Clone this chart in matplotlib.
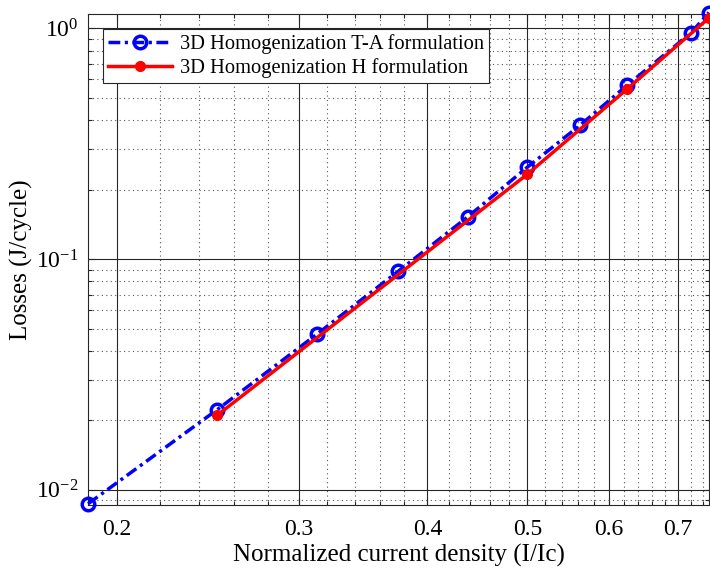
import matplotlib
matplotlib.use('Agg')
import numpy as np
from matplotlib import pyplot as plt
from matplotlib.ticker import FixedLocator, NullFormatter

plt.rcParams['font.family'] = ['Liberation Serif', 'DejaVu Serif']
plt.rcParams['mathtext.fontset'] = 'custom'
plt.rcParams['mathtext.rm'] = 'Liberation Serif'

# T-A formulation (blue)
ta_x = [0.1875, 0.25, 0.3125, 0.375, 0.4375, 0.5, 0.5625, 0.625, 0.72, 0.75]
ta_y = [0.0087, 0.0222, 0.0472, 0.0887, 0.152, 0.250, 0.380, 0.567, 0.951, 1.17]

# H formulation (red)
h_x = [0.25, 0.5, 0.625, 0.75]
h_y = [0.0210, 0.233, 0.546, 1.108]

x_major = [0.2, 0.3, 0.4, 0.5, 0.6, 0.7]
x_major_labels = ['0.2', '0.3', '0.4', '0.5', '0.6', '0.7']
x_minor = [0.22, 0.24, 0.26, 0.28, 0.32, 0.34, 0.36, 0.38, 0.42, 0.44, 0.46, 0.48,
           0.52, 0.54, 0.56, 0.58, 0.62, 0.64, 0.66, 0.68, 0.72, 0.74]
y_major = [1e-2, 1e-1, 1e0]
y_major_labels = [r'$\mathregular{10^{-2}}$', r'$\mathregular{10^{-1}}$', r'$\mathregular{10^{0}}$']

fig = plt.figure(figsize=(7.1, 5.68), dpi=100)
ax = fig.add_axes([0.124, 0.111, 0.8745, 0.8644])

ax.plot(ta_x, ta_y, color='blue', linewidth=2.5, linestyle=(0, (3.4, 1.3, 0.9, 1.3)),
        marker='o', markersize=9, markerfacecolor='none', markeredgewidth=2.5,
        label='3D Homogenization T-A formulation', clip_on=False, zorder=3)
ax.plot(h_x, h_y, color='red', linewidth=2.5, linestyle='-',
        marker='o', markersize=7, markerfacecolor='red',
        label='3D Homogenization H formulation', clip_on=False, zorder=4)

ax.set_xscale('log')
ax.set_yscale('log')
ax.set_xlim(0.1875, 0.75)
ax.set_ylim(0.0086, 1.153)

ax.xaxis.set_major_locator(FixedLocator(x_major))
ax.set_xticklabels(x_major_labels)
ax.xaxis.set_minor_locator(FixedLocator(x_minor))
ax.xaxis.set_minor_formatter(NullFormatter())
ax.yaxis.set_major_locator(FixedLocator(y_major))
ax.set_yticklabels(y_major_labels)
ax.yaxis.set_minor_locator(matplotlib.ticker.LogLocator(base=10, subs=np.arange(2, 10)))
ax.yaxis.set_minor_formatter(NullFormatter())

ax.grid(True, which='major', color='#262626', linestyle='-', linewidth=0.8)
ax.grid(True, which='minor', color='#555555', linestyle=(0, (1, 3)), linewidth=0.8)
ax.set_axisbelow(True)

ax.tick_params(which='both', direction='in', top=True, right=True, labelsize=17,
               color='#262626', width=0.8)
ax.tick_params(which='major', length=5, pad=7)
ax.tick_params(axis='x', which='major', pad=10)
ax.tick_params(which='minor', length=3)
for s in ax.spines.values():
    s.set_color('#262626')
    s.set_linewidth(0.8)

ax.set_xlabel('Normalized current density (I/Ic)', fontsize=18, labelpad=3)
ax.set_ylabel('Losses (J/cycle)', fontsize=18, labelpad=2)

leg = ax.legend(loc='upper left', bbox_to_anchor=(0.024, 0.97), fontsize=14.8,
                fancybox=False, framealpha=1, edgecolor='#262626',
                handlelength=3.1, borderpad=0.25, labelspacing=0.2,
                handletextpad=0.4, borderaxespad=0)
leg.get_frame().set_linewidth(0.8)

plt.savefig('out.png', dpi=100)
plt.close()
